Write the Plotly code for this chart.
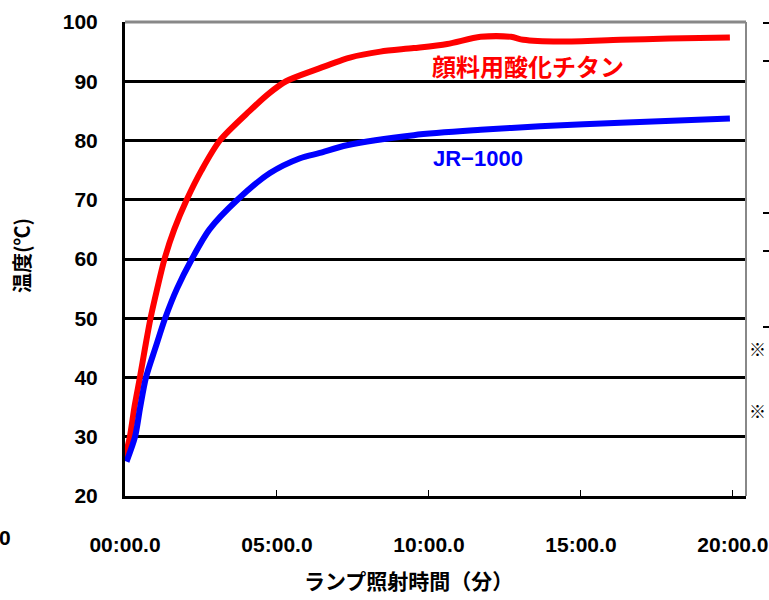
import plotly.graph_objects as go

# time in minutes, temperature in °C
red_t = [0, 0.16, 0.31, 0.49, 0.66, 0.84, 1.06, 1.30, 1.62, 2.03, 2.52, 3.12, 4.1, 4.75, 5.3, 6.3, 7.4, 8.4, 9.5, 10.6, 11.7, 12.7, 13.1, 14.3, 16.3, 17.9, 19.9]
red_v = [26.5, 30, 35, 40, 45, 50, 55, 60, 65, 70, 75, 80, 85, 88, 90, 92, 94, 95, 95.6, 96.3, 97.5, 97.5, 97.0, 96.7, 97.0, 97.2, 97.4]

blue_t = [0.05, 0.33, 0.5, 0.69, 1.0, 1.32, 1.71, 2.2, 2.78, 3.7, 4.77, 5.76, 6.41, 7.3, 9.5, 11.7, 13.65, 16.3, 19.9]
blue_v = [25.8, 30, 35, 40, 45, 50, 55, 60, 65, 70, 74.5, 77, 77.9, 79.2, 80.9, 81.8, 82.4, 83.0, 83.7]

x_ticks = [0, 5, 10, 15, 20]
x_labels = ["00:00.0", "05:00.0", "10:00.0", "15:00.0", "20:00.0"]
y_ticks = [20, 30, 40, 50, 60, 70, 80, 90, 100]

fig = go.Figure()
fig.add_trace(go.Scatter(x=red_t, y=red_v, mode="lines", line=dict(color="#ff0000", width=6, shape="spline", smoothing=0.8),
                         name="顔料用酸化チタン", showlegend=False))
fig.add_trace(go.Scatter(x=blue_t, y=blue_v, mode="lines", line=dict(color="#0000ff", width=6, shape="spline", smoothing=0.8),
                         name="JR-1000", showlegend=False))

font_fam = "Liberation Sans, Arial, sans-serif"
jp = "Noto Sans CJK JP, sans-serif"

L, R, T, B = 125, 746, 22, 496
PW, PH = R - L, B - T


def px(x):
    return (x - L) / PW


def py(y):
    return (B - y) / PH


fig.update_layout(
    width=769, height=600,
    margin=dict(l=L, r=769 - R, t=T, b=600 - B, autoexpand=False),
    paper_bgcolor="white", plot_bgcolor="white",
    xaxis=dict(range=[0, 20.43], tickvals=x_ticks, ticktext=x_labels, showgrid=False, zeroline=False,
               automargin=False,
               showline=True, linecolor="black", linewidth=3, ticks="inside", ticklen=6, tickcolor="black",
               tickwidth=1, ticklabelstandoff=28,
               tickfont=dict(family=font_fam, size=21, color="black", weight="bold")),
    yaxis=dict(range=[20, 100], tickvals=y_ticks, showgrid=True, gridcolor="black", gridwidth=3, zeroline=False,
               automargin=False,
               showline=True, linecolor="black", linewidth=3, ticks="", ticklabelstandoff=20,
               tickfont=dict(family=font_fam, size=21, color="black", weight="bold")),
    showlegend=False,
)

# gray border on top and right
fig.add_shape(type="line", xref="paper", yref="paper", x0=0, x1=1, y0=1, y1=1,
              line=dict(color="#888888", width=3), layer="above")
fig.add_shape(type="line", xref="paper", yref="paper", x0=1, x1=1, y0=0, y1=1,
              line=dict(color="#888888", width=2), layer="above")

# series labels
fig.add_annotation(x=px(430), y=py(65), xref="paper", yref="paper", text="<b>顔料用酸化チタン</b>", showarrow=False,
                   xanchor="left", yanchor="middle", font=dict(family=jp, size=24, color="#ff0000"))
fig.add_annotation(x=px(431), y=py(158), xref="paper", yref="paper", text="<b>JR−1000</b>", showarrow=False,
                   xanchor="left", yanchor="middle", font=dict(family=font_fam, size=22, color="#0000ff"))

# axis titles
fig.add_annotation(x=px(408), y=py(580), xref="paper", yref="paper", text="<b>ランプ照射時間（分）</b>",
                   showarrow=False, xanchor="center", yanchor="middle",
                   font=dict(family=jp, size=21, color="black"))
fig.add_annotation(x=px(22), y=py(256), xref="paper", yref="paper", text="<b>温度(℃)</b>",
                   showarrow=False, textangle=-90, xanchor="center", yanchor="middle",
                   font=dict(family=jp, size=20, color="black"))

# cropped neighbouring content at the edges
fig.add_annotation(x=px(13), y=py(537), xref="paper", yref="paper", text="<b>0</b>", showarrow=False,
                   xanchor="right", yanchor="middle", font=dict(family=font_fam, size=21, color="black"))
for yy in [23, 61, 213, 251, 327]:
    fig.add_shape(type="line", xref="paper", yref="paper", x0=px(763), x1=px(770),
                  y0=py(yy), y1=py(yy), line=dict(color="black", width=2))
for yy in [348, 410]:
    fig.add_annotation(x=px(768), y=py(yy), xref="paper", yref="paper", text="※",
                       showarrow=False, xanchor="right", yanchor="middle",
                       font=dict(family=jp, size=17, color="black"))

fig.write_html("out.html", config={"displayModeBar": False},
               post_script="document.body.style.margin='0';document.body.style.padding='0';"
                           "document.body.style.overflow='hidden';")
